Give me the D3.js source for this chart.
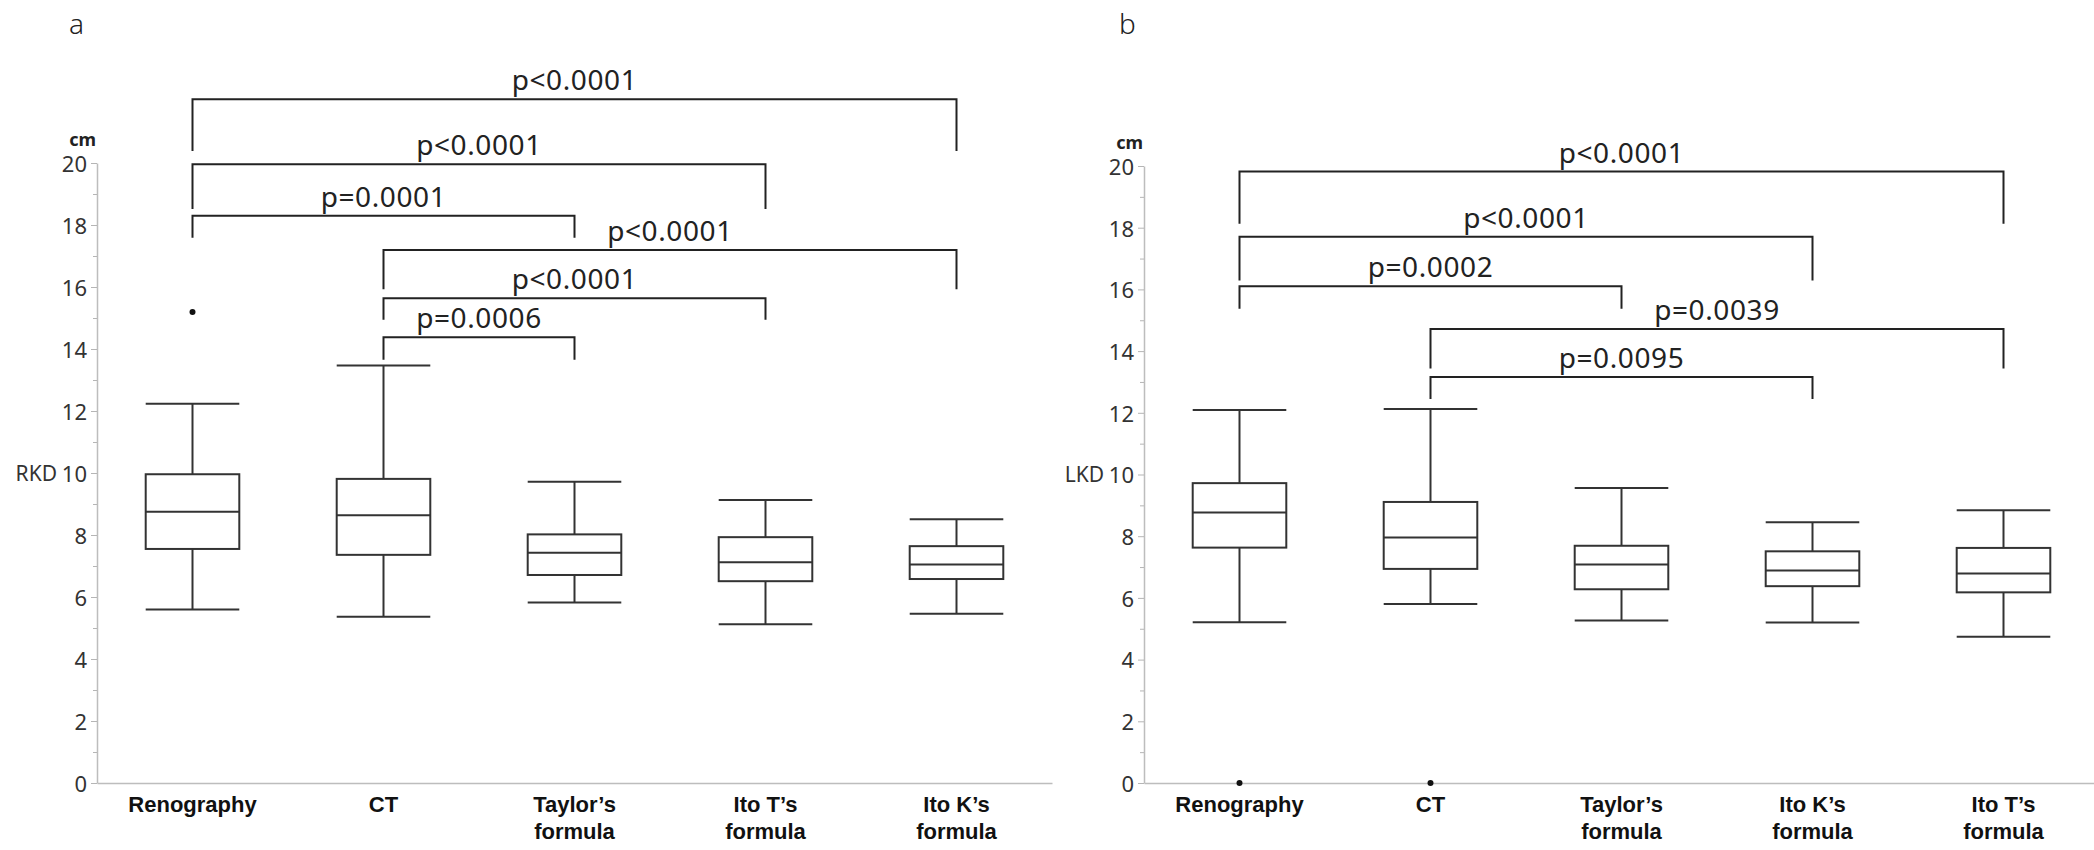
<!DOCTYPE html>
<html>
<head>
<meta charset="utf-8">
<script src="https://cdn.jsdelivr.net/npm/d3@7"></script>
<style>
  body { margin: 0; background: #fff; }
  svg { display: block; font-family: "Noto Sans", "DejaVu Sans", sans-serif; }
</style>
</head>
<body>
<script>
// kidney length (cm) box plots, two panels
const categoriesA = ["Renography", "CT", "Taylor’s\nformula", "Ito T’s\nformula", "Ito K’s\nformula"];
const categoriesB = ["Renography", "CT", "Taylor’s\nformula", "Ito K’s\nformula", "Ito T’s\nformula"];
const yTicks = [0, 2, 4, 6, 8, 10, 12, 14, 16, 18, 20];
const yMinorTicks = [1, 3, 5, 7, 9, 11, 13, 15, 17, 19];

// panel a: RKD
const rkdLow    = [5.60, 5.36, 5.82, 5.12, 5.46];
const rkdQ1     = [7.55, 7.36, 6.71, 6.51, 6.58];
const rkdMedian = [8.75, 8.64, 7.43, 7.12, 7.05];
const rkdQ3     = [9.96, 9.81, 8.02, 7.93, 7.64];
const rkdHigh   = [12.23, 13.47, 9.72, 9.13, 8.51];
const rkdOutliers = [[0, 15.19]];
// [from, to, label, bar level (cm), leg end (cm)]
const rkdBrackets = [
  [0, 4, "p<0.0001", 22.06, 20.39],
  [0, 3, "p<0.0001", 19.96, 18.52],
  [0, 2, "p=0.0001", 18.30, 17.59],
  [1, 4, "p<0.0001", 17.19, 15.93],
  [1, 3, "p<0.0001", 15.64, 14.94],
  [1, 2, "p=0.0006", 14.38, 13.65]
];

// panel b: LKD
const lkdLow    = [5.21, 5.80, 5.27, 5.20, 4.74];
const lkdQ1     = [7.63, 6.94, 6.28, 6.38, 6.18];
const lkdMedian = [8.77, 7.96, 7.08, 6.89, 6.79];
const lkdQ3     = [9.72, 9.11, 7.69, 7.51, 7.62];
const lkdHigh   = [12.09, 12.12, 9.56, 8.45, 8.84];
const lkdOutliers = [[0, 0], [1, 0]];
const lkdBrackets = [
  [0, 4, "p<0.0001", 19.82, 18.13],
  [0, 3, "p<0.0001", 17.71, 16.29],
  [0, 2, "p=0.0002", 16.10, 15.37],
  [1, 4, "p=0.0039", 14.72, 13.44],
  [1, 3, "p=0.0095", 13.16, 12.45]
];

const W = 2094, H = 850;
const svg = d3.select("body").append("svg").attr("width", W).attr("height", H);

function drawPanel(p) {
  const g = svg.append("g");
  const x = d3.scaleBand().domain(p.cats.map((d, i) => i)).range(p.xRange).padding(0);
  const y = d3.scaleLinear().domain([0, 20]).range(p.yRange);
  const cx = i => x(i) + x.bandwidth() / 2;
  const bw = x.bandwidth() * 0.49;

  // panel letter
  svg.append("text").attr("x", p.letterX).attr("y", 34)
    .attr("font-size", 28).attr("font-weight", 300).attr("fill", "#222")
    .text(p.letter);

  // minor ticks
  g.append("g").attr("transform", `translate(${p.xRange[0]},0)`)
    .call(d3.axisLeft(y).tickValues(yMinorTicks).tickSize(4).tickFormat(""))
    .call(a => a.select(".domain").remove())
    .selectAll("line").attr("stroke", "#b5b5b5");

  // y axis
  const ya = g.append("g").attr("transform", `translate(${p.xRange[0]},0)`)
    .call(d3.axisLeft(y).tickValues(yTicks).tickSize(6).tickSizeOuter(0).tickPadding(4));
  ya.select(".domain").attr("stroke", "#bdbdbd").attr("stroke-width", 1.5);
  ya.selectAll(".tick line").attr("stroke", "#b5b5b5");
  ya.selectAll(".tick text").attr("font-size", 22).attr("fill", "#333")
    .attr("font-family", "'Noto Sans', sans-serif").attr("dy", "0.38em");

  // axis title pieces
  g.append("text").attr("x", p.xRange[0] - 1).attr("y", y(20) - 17)
    .attr("text-anchor", "end").attr("font-size", 18).attr("font-weight", 700).attr("fill", "#222")
    .text("cm");
  g.append("text").attr("x", p.xRange[0] - 40).attr("y", y(10)).attr("dy", "0.38em")
    .attr("text-anchor", "end").attr("font-size", 21).attr("fill", "#333")
    .text(p.title);

  // x axis
  const xa = g.append("g").attr("transform", `translate(0,${y(0)})`)
    .call(d3.axisBottom(x).tickSize(0).tickPadding(14).tickFormat(""));
  xa.select(".domain").attr("stroke", "#bdbdbd").attr("stroke-width", 1.5);
  xa.selectAll(".tick").each(function(d) {
    const t = d3.select(this).select("text")
      .attr("font-size", 22).attr("font-weight", 700).attr("fill", "#111").attr("dy", null).attr("y", 0);
    p.cats[d].split("\n").forEach((line, k) => {
      t.append("tspan").attr("x", 0).attr("y", 29 + k * 27).text(line);
    });
  });

  // boxes
  const stats = p.low.map((d, i) => ({ i, low: p.low[i], q1: p.q1[i], med: p.med[i], q3: p.q3[i], high: p.high[i] }));
  const box = g.selectAll("g.box").data(stats).enter().append("g").attr("class", "box")
    .attr("stroke", "#333").attr("stroke-width", 2).attr("fill", "none");
  box.append("line").attr("x1", d => cx(d.i)).attr("x2", d => cx(d.i))
    .attr("y1", d => y(d.high)).attr("y2", d => y(d.q3));
  box.append("line").attr("x1", d => cx(d.i)).attr("x2", d => cx(d.i))
    .attr("y1", d => y(d.q1)).attr("y2", d => y(d.low));
  box.append("line").attr("x1", d => cx(d.i) - bw / 2).attr("x2", d => cx(d.i) + bw / 2)
    .attr("y1", d => y(d.high)).attr("y2", d => y(d.high));
  box.append("line").attr("x1", d => cx(d.i) - bw / 2).attr("x2", d => cx(d.i) + bw / 2)
    .attr("y1", d => y(d.low)).attr("y2", d => y(d.low));
  box.append("rect").attr("x", d => cx(d.i) - bw / 2).attr("width", bw)
    .attr("y", d => y(d.q3)).attr("height", d => y(d.q1) - y(d.q3));
  box.append("line").attr("x1", d => cx(d.i) - bw / 2).attr("x2", d => cx(d.i) + bw / 2)
    .attr("y1", d => y(d.med)).attr("y2", d => y(d.med));

  // outliers
  g.selectAll("circle.out").data(p.outliers).enter().append("circle").attr("class", "out")
    .attr("cx", d => cx(d[0])).attr("cy", d => y(d[1])).attr("r", 3).attr("fill", "#111");

  // significance brackets
  const br = g.selectAll("g.br").data(p.brackets).enter().append("g").attr("class", "br");
  br.append("path")
    .attr("d", d => `M${cx(d[0])},${y(d[4])}V${y(d[3])}H${cx(d[1])}V${y(d[4])}`)
    .attr("fill", "none").attr("stroke", "#222").attr("stroke-width", 2);
  br.append("text")
    .attr("x", d => (cx(d[0]) + cx(d[1])) / 2).attr("y", d => y(d[3]) - 9)
    .attr("text-anchor", "middle").attr("font-size", 28).attr("letter-spacing", "0.6px")
    .attr("fill", "#222")
    .text(d => d[2]);
}

drawPanel({
  letter: "a", letterX: 69, title: "RKD", cats: categoriesA,
  xRange: [97, 1052], yRange: [783, 163],
  low: rkdLow, q1: rkdQ1, med: rkdMedian, q3: rkdQ3, high: rkdHigh,
  outliers: rkdOutliers, brackets: rkdBrackets
});
drawPanel({
  letter: "b", letterX: 1119, title: "LKD", cats: categoriesB,
  xRange: [1144, 2099], yRange: [783, 166],
  low: lkdLow, q1: lkdQ1, med: lkdMedian, q3: lkdQ3, high: lkdHigh,
  outliers: lkdOutliers, brackets: lkdBrackets
});
</script>
</body>
</html>
